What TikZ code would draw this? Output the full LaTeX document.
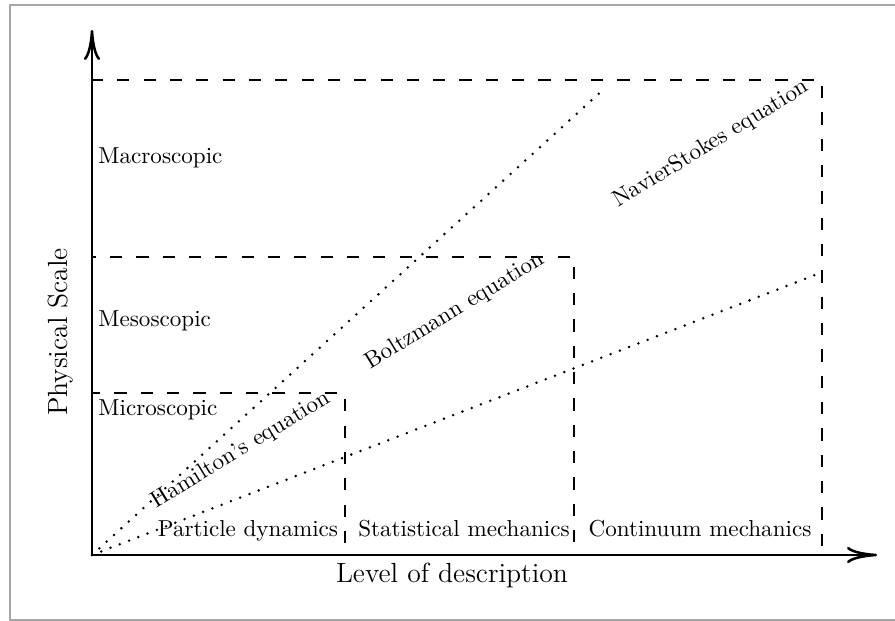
\documentclass[tikz,border=0pt]{standalone}
\usetikzlibrary{arrows.meta}
\begin{document}
\begin{tikzpicture}[x=0.433pt,y=0.433pt,
  axis/.style={line width=1.1pt,-{To[length=13pt,width=7pt]}},
  region/.style={line width=1.2pt,dash pattern=on 5.3pt off 6.1pt},
  guide/.style={line width=1.2pt,line cap=round,dash pattern=on 0pt off 4.3pt},
  lbl/.style={inner sep=0pt,font=\normalsize},
  axlbl/.style={inner sep=0pt,font=\large},
  eqlbl/.style={inner sep=0pt,font=\normalsize,rotate=31.5,anchor=base}]
\useasboundingbox (0,0) rectangle (895,621);
% outer frame, open on the right
\draw[gray!70,line width=0.8pt] (905,616) -- (10,616) -- (10,1) -- (905,1);

% reference points
\coordinate (O) at (92,66);
\coordinate (ytop) at (92,591);
\coordinate (xend) at (877,66);
\coordinate (micro corner) at (345,228);
\coordinate (meso corner) at (574,364);
\coordinate (macro corner) at (822,541);
\coordinate (steep end) at (605,533);
\coordinate (flat end) at (815,346);

% nested scale regions
\draw[region] (O) rectangle (micro corner);
\draw[region] (O) rectangle (meso corner);
\draw[region] (O) rectangle (macro corner);

% model boundaries
\draw[guide] (O) -- (steep end);
\draw[guide] (O) -- (flat end);

% axes
\draw[axis] (O) -- (ytop);
\draw[axis] (O) -- (xend);

% scale labels
\node[lbl,anchor=base west] (macro) at (98,457) {Macroscopic};
\node[lbl,anchor=base west] (meso) at (98,294) {Mesoscopic};
\node[lbl,anchor=base west] (micro) at (98,205) {Microscopic};

% description levels
\node[lbl,anchor=base] (particle) at (248,84) {Particle dynamics};
\node[lbl,anchor=base] (statistical) at (464,84) {Statistical mechanics};
\node[lbl,anchor=base] (continuum) at (700,84) {Continuum mechanics};

% governing equations
\node[eqlbl] (hamilton) at (244,166) {Hamilton's equation};
\node[eqlbl] (boltzmann) at (458,305) {Boltzmann equation};
\node[eqlbl] (navier) at (714,472) {NavierStokes equation};

% axis titles
\node[axlbl,anchor=base] (xtitle) at (452,38) {Level of description};
\node[axlbl,anchor=base,rotate=90] (ytitle) at (67,289) {Physical Scale};
\end{tikzpicture}
\end{document}
